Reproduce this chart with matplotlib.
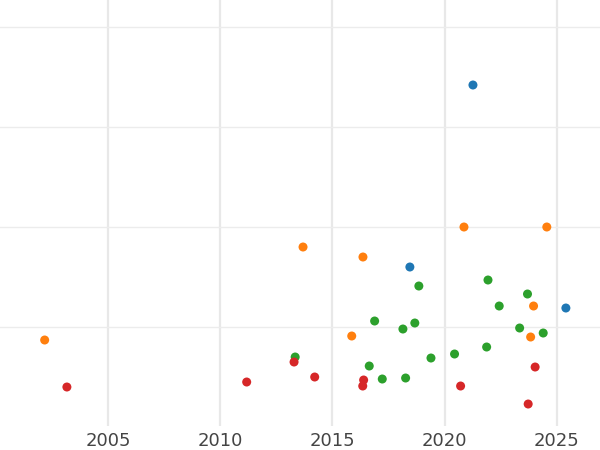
import matplotlib
matplotlib.use("Agg")
import matplotlib.pyplot as plt

blue_x = [2021.26, 2018.45, 2025.40]
blue_y = [3.42, 1.60, 1.19]

orange_x = [2020.86, 2024.55, 2013.69, 2016.36, 2015.86, 2023.96, 2023.83, 2002.18]
orange_y = [2.00, 2.00, 1.80, 1.70, 0.91, 1.21, 0.90, 0.87]

green_x = [2013.34, 2021.93, 2018.85, 2023.69, 2022.43, 2016.88, 2018.14, 2018.67,
           2023.34, 2024.39, 2021.87, 2020.44, 2019.39, 2016.64, 2017.22, 2018.26]
green_y = [0.70, 1.47, 1.41, 1.33, 1.21, 1.06, 0.98, 1.04,
           0.99, 0.94, 0.80, 0.73, 0.69, 0.61, 0.48, 0.49]

red_x = [2003.17, 2011.18, 2013.29, 2014.21, 2016.39, 2016.35, 2020.71, 2024.03, 2023.72]
red_y = [0.40, 0.45, 0.65, 0.50, 0.47, 0.41, 0.41, 0.60, 0.23]

xticks = [2005, 2010, 2015, 2020, 2025]
yticks = [1, 2, 3, 4]

fig = plt.figure(figsize=(6, 4.5), dpi=100)
ax = fig.add_axes([0, 0.0533, 1, 0.9467])

for xs, ys, c in [(blue_x, blue_y, "#1f77b4"), (orange_x, orange_y, "#ff7f0e"),
                  (green_x, green_y, "#2ca02c"), (red_x, red_y, "#d62728")]:
    ax.scatter(xs, ys, s=42, color=c, edgecolors="none", zorder=3)

ax.set_xlim(2000.19, 2026.92)
ax.set_ylim(0.01, 4.27)
ax.set_xticks(xticks)
ax.set_xticklabels([str(t) for t in xticks])
ax.set_yticks(yticks)
ax.set_yticklabels([])
ax.tick_params(axis="both", length=0)
ax.tick_params(axis="x", labelsize=13, labelcolor="#444444", pad=4)
ax.grid(axis="x", color="#e8e8e8", linewidth=1.6)
ax.grid(axis="y", color="#ececec", linewidth=1.0)
ax.set_axisbelow(True)
for s in ax.spines.values():
    s.set_visible(False)

fig.savefig("out.png", dpi=100)
